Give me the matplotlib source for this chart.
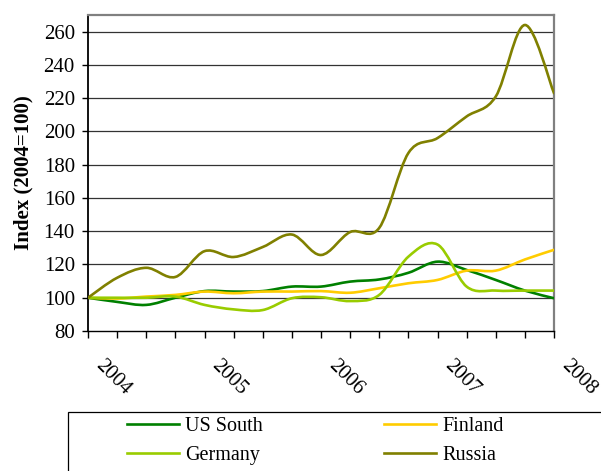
import matplotlib
matplotlib.use("Agg")
import matplotlib.pyplot as plt
import numpy as np
from matplotlib.path import Path
from matplotlib.patches import PathPatch, Rectangle
from matplotlib.lines import Line2D
from matplotlib.transforms import ScaledTranslation

plt.rcParams['font.family'] = ['Liberation Serif', 'DejaVu Serif']

# quarterly points, 2004 Q1 .. 2008 Q1
quarters = np.arange(17)
year_labels = ['2004', '2005', '2006', '2007', '2008']

us_south = [100, 97.5, 95.7, 100, 104, 103.7, 104, 106.7, 106.7, 109.7, 111, 115, 121.7, 116.7, 110.7, 104.3, 99.7]
finland = [100, 99.5, 100.7, 101.7, 103.7, 102.7, 103.7, 103.7, 104, 103, 105.7, 108.7, 110.7, 116.3, 116.3, 123, 128.8]
germany = [100, 100, 100, 100.7, 95.7, 93, 92.6, 99.7, 100.3, 98, 101.7, 124.7, 132, 106.7, 104.3, 104.3, 104.3]
russia = [100, 112, 118, 112.5, 128, 124.5, 130.5, 138, 125.7, 139.5, 142, 187, 196, 209, 221, 264, 223]

series = [('US South', us_south, '#008000'),
          ('Finland', finland, '#FFCC00'),
          ('Germany', germany, '#99CC00'),
          ('Russia', russia, '#808000')]


def smooth_path(x, y):
    # Excel-style smoothed line: cubic bezier through every point
    pts = np.column_stack([x, y]).astype(float)
    n = len(pts)
    verts = [pts[0]]
    codes = [Path.MOVETO]
    for i in range(n - 1):
        p0 = pts[max(i - 1, 0)]
        p1 = pts[i]
        p2 = pts[i + 1]
        p3 = pts[min(i + 2, n - 1)]
        verts += [p1 + (p2 - p0) / 6, p2 - (p3 - p1) / 6, p2]
        codes += [Path.CURVE4] * 3
    return Path(verts, codes)


fig = plt.figure(figsize=(6.01, 4.71), dpi=100)
ax = fig.add_axes([88 / 601, 1 - 331 / 471, (554 - 88) / 601, (331 - 15) / 471])

ax.set_xlim(0, 16)
ax.set_ylim(80, 270)

for y in range(100, 261, 20):
    ax.axhline(y, color='#333333', lw=0.9, zorder=1)

lw = 1.9
handles = {}
for name, vals, col in series:
    patch = PathPatch(smooth_path(quarters, vals), fill=False, edgecolor=col, lw=lw,
                      zorder=3, capstyle='round', joinstyle='round')
    ax.add_patch(patch)
    handles[name] = Line2D([], [], color=col, lw=lw)

ax.set_yticks(range(80, 261, 20))
ax.set_xticks(quarters)
ax.set_xticklabels([])

ax.tick_params(axis='y', direction='out', length=4.5, width=1, labelsize=15, pad=5, color='black')
ax.tick_params(axis='x', direction='out', length=5, width=1, color='black')

# slanted year labels, starting just right of their tick
offset = ScaledTranslation(17 / 100, -25 / 100, fig.dpi_scale_trans)
for i, lab in zip(quarters[::4], year_labels):
    ax.text(i, 0, lab, transform=ax.get_xaxis_transform() + offset, rotation=-45,
            ha='left', va='top', rotation_mode='anchor', fontsize=15, clip_on=False)

ax.spines['left'].set_color('black')
ax.spines['left'].set_linewidth(1.3)
ax.spines['bottom'].set_color('black')
ax.spines['bottom'].set_linewidth(1.0)
for s in ['top', 'right']:
    ax.spines[s].set_color('#808080')
    ax.spines[s].set_linewidth(1.6)

ax.set_ylabel('Index (2004=100)', fontsize=15, fontweight='bold', labelpad=7)

# legend box, running off the figure edge
fig.patches.append(Rectangle((68 / 601, -0.05), 0.95, (1 - 412 / 471) + 0.05,
                             transform=fig.transFigure, fill=False, edgecolor='black', lw=0.9))

order = ['US South', 'Germany', 'Finland', 'Russia']
fig.legend([handles[k] for k in order], order, ncol=2, frameon=False,
           loc='upper left', bbox_to_anchor=(127 / 601, 1 - 417 / 471),
           borderpad=0, borderaxespad=0, fontsize=14.5, handlelength=2.6,
           handletextpad=0.3, columnspacing=6.0, labelspacing=0.5)

fig.savefig('out.png', dpi=100)
